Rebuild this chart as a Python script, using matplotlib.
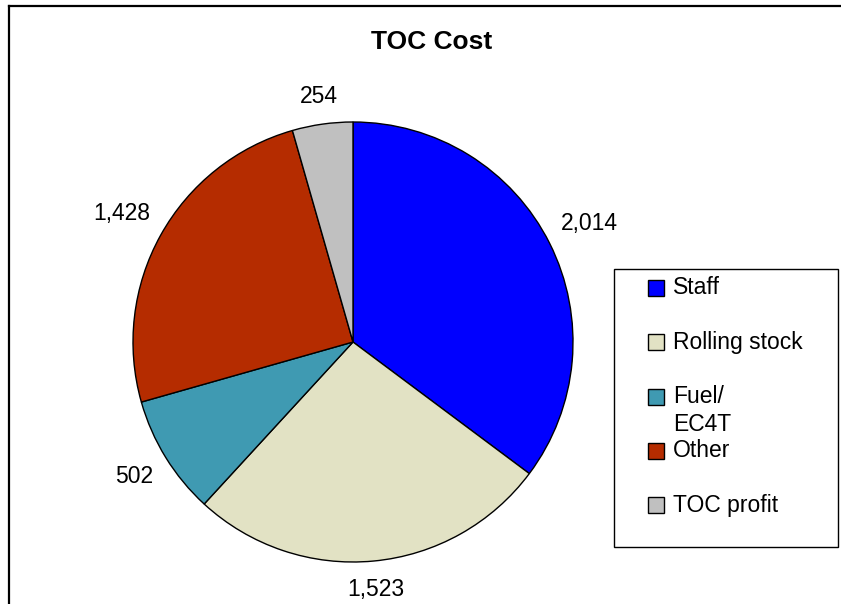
import numpy as np
import matplotlib
matplotlib.use('Agg')
import matplotlib.pyplot as plt
from matplotlib.patches import Rectangle
from matplotlib.lines import Line2D

plt.rcParams['font.family'] = ['Liberation Sans', 'DejaVu Sans']

title = 'TOC Cost'
categories = ['Staff', 'Rolling stock', 'Fuel/\nEC4T', 'Other', 'TOC profit']
costs = [2014, 1523, 502, 1428, 254]
colors = ['#0000FF', '#E2E2C4', '#3F9AB2', '#B52C00', '#C0C0C0']

W, H = 841, 604
R = 220          # pie radius in pixels
cx, cy = 353, 342  # pie centre in pixels (from top-left)


def fx(x):
    return x / W


def fy(y):
    return 1 - y / H


fig = plt.figure(figsize=(W / 100, H / 100), dpi=100)

# outer chart frame (only top and left edges fall inside the image)
fig.add_artist(Line2D([fx(9), fx(9)], [fy(6), -0.1], color='black', lw=1.6))
fig.add_artist(Line2D([fx(9), 1.1], [fy(6), fy(6)], color='black', lw=1.6))

ax = fig.add_axes([fx(cx - R), fy(cy + R), 2 * R / W, 2 * R / H])
wedges, texts = ax.pie(costs, labels=[f'{v:,}' for v in costs], colors=colors,
                       startangle=90, counterclock=False, labeldistance=1.1,
                       wedgeprops=dict(edgecolor='black', linewidth=1),
                       textprops=dict(fontsize=16.5))
ax.set_xlim(-1, 1)
ax.set_ylim(-1, 1)
ax.set_aspect('equal')

# push each value label out so its nearest edge sits just off the rim
fig.canvas.draw()
rend = fig.canvas.get_renderer()
for t, w in zip(texts, wedges):
    ang = np.deg2rad((w.theta1 + w.theta2) / 2)
    bb = t.get_window_extent(rend)
    ext = (bb.width / 2) * abs(np.cos(ang)) + (bb.height / 2) * abs(np.sin(ang))
    dist = 1.065 + ext / R
    t.set_position((dist * np.cos(ang), dist * np.sin(ang)))
    t.set_ha('center')
    t.set_va('center')

fig.text(fx(432), fy(42), title, ha='center', va='center',
         fontsize=19, fontweight='bold')

# legend box
fig.add_artist(Rectangle((fx(614), fy(547)), (838 - 614) / W, (547 - 269) / H,
                         transform=fig.transFigure, facecolor='white',
                         edgecolor='black', lw=1))
row0, step = 288, 54.3
for i, (lab, col) in enumerate(zip(categories, colors)):
    yc = row0 + i * step
    fig.add_artist(Rectangle((fx(648), fy(yc + 8)), 16 / W, 16 / H,
                             transform=fig.transFigure, facecolor=col,
                             edgecolor='black', lw=1))
    for j, line in enumerate(lab.split('\n')):
        fig.text(fx(673), fy(yc + j * 28), line, ha='left', va='center',
                 fontsize=16.5)

fig.savefig('out.png', dpi=100)
